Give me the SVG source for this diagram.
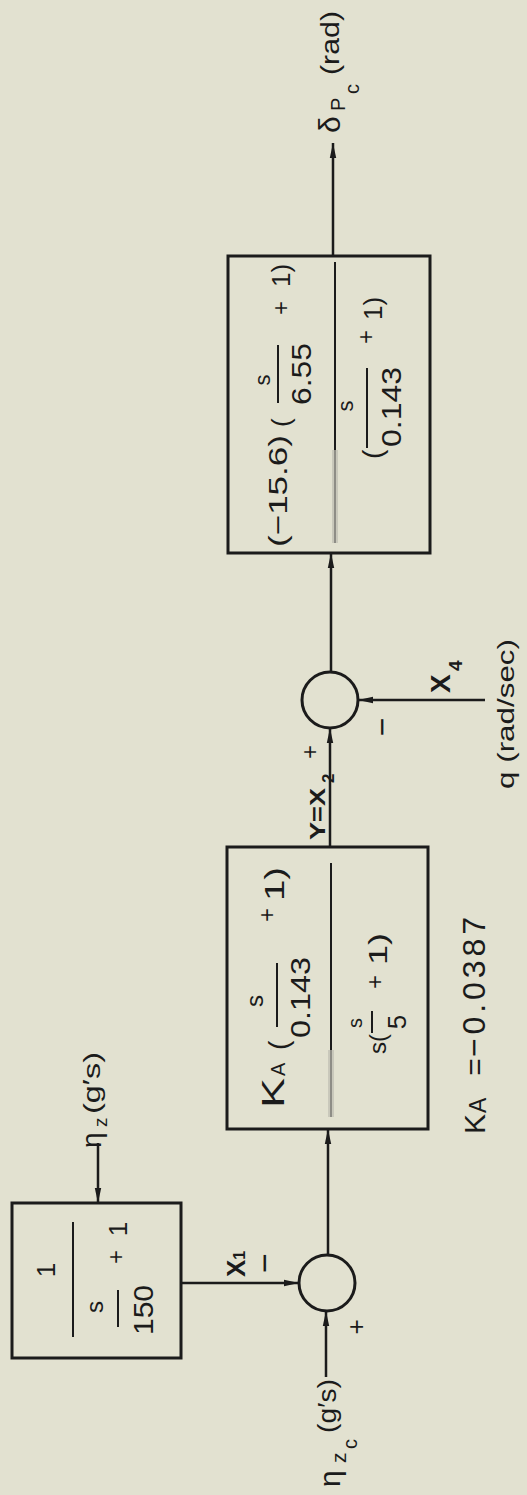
<svg xmlns="http://www.w3.org/2000/svg" width="527" height="1495" viewBox="0 0 527 1495">
<defs>
<style>
.bg{fill:#e2e1d0}
.box{fill:none;stroke:#1b1b1b;stroke-width:3}
.sum{fill:none;stroke:#1b1b1b;stroke-width:3}
.ln{stroke:#1b1b1b;stroke-width:2.5;fill:none}
.fr{stroke:#1b1b1b;stroke-width:2;fill:none}
.ghost{stroke:#c9c8bb;stroke-width:6;fill:none}
.ghostc{stroke:#7a7a74;stroke-width:1.5;fill:none}
text{font-family:"Liberation Sans",Arial,sans-serif;fill:#1b1b1b}
.b{font-weight:bold}
</style>
<marker id="ah" markerWidth="15" markerHeight="8" refX="15" refY="4" orient="auto" markerUnits="userSpaceOnUse">
<path d="M0,0.8 L15,4 L0,7.2 Z" fill="#1b1b1b"/>
</marker>
</defs>
<rect class="bg" x="0" y="0" width="527" height="1495"/>
<g transform="translate(0,1495) rotate(-90)">
<g id="connectors">
<line class="ln" x1="118" y1="326" x2="184" y2="326" marker-end="url(#ah)"/>
<line class="ln" x1="352" y1="98" x2="292" y2="98" marker-end="url(#ah)"/>
<line class="ln" x1="212" y1="181" x2="212" y2="299" marker-end="url(#ah)"/>
<line class="ln" x1="240" y1="328" x2="366" y2="328" marker-end="url(#ah)"/>
<line class="ln" x1="648" y1="330" x2="767" y2="330" marker-end="url(#ah)"/>
<line class="ln" x1="795" y1="485" x2="795" y2="358" marker-end="url(#ah)"/>
<line class="ln" x1="823" y1="331" x2="942" y2="331" marker-end="url(#ah)"/>
<line class="ln" x1="1239" y1="333" x2="1352" y2="333" marker-end="url(#ah)"/>
</g>
<g id="input-nzc">
<text x="8" y="340" font-size="30">η</text>
<text x="32" y="346" font-size="21">z</text>
<text x="46" y="357" font-size="20">c</text>
<text x="62" y="336" font-size="26" textLength="54" lengthAdjust="spacingAndGlyphs">(g′s)</text>
</g>
<g id="sum1">
<circle class="sum" cx="212" cy="327" r="28"/>
<text x="168" y="365" font-size="26" text-anchor="middle">+</text>
<text x="232" y="276" font-size="34" text-anchor="middle">−</text>
<text class="b" x="218" y="245" font-size="26">X<tspan font-size="16">1</tspan></text>
</g>
<g id="filter-box">
<rect class="box" x="137" y="12" width="155" height="169"/>
<text x="225" y="55" font-size="26" text-anchor="middle">1</text>
<line class="fr" x1="158" y1="73" x2="273" y2="73"/>
<text x="188" y="103" font-size="24" text-anchor="middle">s</text>
<line class="fr" x1="168" y1="118" x2="205" y2="118"/>
<text x="160" y="153" font-size="28" textLength="50" lengthAdjust="spacingAndGlyphs">150</text>
<text x="238" y="124" font-size="24" text-anchor="middle">+</text>
<text x="266" y="127" font-size="26" text-anchor="middle">1</text>
</g>
<g id="input-nz">
<text x="347" y="101" font-size="28">η</text>
<text x="368" y="107" font-size="19">z</text>
<text x="381" y="100" font-size="24" textLength="62" lengthAdjust="spacingAndGlyphs">(g′s)</text>
</g>
<g id="controller-box">
<rect class="box" x="366" y="227" width="282" height="201"/>
<line class="ghost" x1="378" y1="331" x2="445" y2="331"/>
<line class="ghostc" x1="378" y1="331" x2="445" y2="331"/>
<line class="fr" x1="445" y1="331" x2="632" y2="331"/>
<text x="387" y="284" font-size="32" textLength="30" lengthAdjust="spacingAndGlyphs">K</text>
<text x="419" y="285" font-size="20">A</text>
<text x="445" y="288" font-size="28">(</text>
<text x="494" y="263" font-size="24" text-anchor="middle">s</text>
<line class="fr" x1="468" y1="277" x2="532" y2="277"/>
<text x="457" y="310" font-size="27" textLength="81" lengthAdjust="spacingAndGlyphs">0.143</text>
<text x="580" y="275" font-size="24" text-anchor="middle">+</text>
<text x="594" y="284" font-size="28" textLength="34" lengthAdjust="spacingAndGlyphs">1)</text>
<text x="441" y="386" font-size="24">s(</text>
<text x="472" y="362" font-size="20" text-anchor="middle">s</text>
<line class="fr" x1="462" y1="372" x2="484" y2="372"/>
<text x="473" y="406" font-size="26" text-anchor="middle">5</text>
<text x="513" y="383" font-size="24" text-anchor="middle">+</text>
<text x="530" y="387" font-size="26" textLength="32" lengthAdjust="spacingAndGlyphs">1)</text>
</g>
<g id="gain-note">
<text x="361" y="485" font-size="30">K</text>
<text x="382" y="486" font-size="23">A</text>
<text x="428" y="485" font-size="30" text-anchor="middle">=</text>
<text x="438" y="485" font-size="32" textLength="140" lengthAdjust="spacing">−0.0387</text>
</g>
<g id="sum2">
<circle class="sum" cx="795" cy="330" r="28"/>
<text class="b" x="655" y="325" font-size="22" textLength="52" lengthAdjust="spacingAndGlyphs">Y=X</text>
<text class="b" x="712" y="334" font-size="17">2</text>
<text x="743" y="318" font-size="24" text-anchor="middle">+</text>
<text x="768" y="393" font-size="32" text-anchor="middle">−</text>
<text class="b" x="802" y="450" font-size="28">X</text>
<text class="b" x="824" y="462" font-size="19">4</text>
<text x="706" y="514" font-size="24" textLength="150" lengthAdjust="spacingAndGlyphs">q (rad/sec)</text>
</g>
<g id="compensator-box">
<rect class="box" x="942" y="228" width="297" height="202"/>
<line class="ghost" x1="952" y1="335" x2="1045" y2="335"/>
<line class="ghostc" x1="952" y1="335" x2="1045" y2="335"/>
<line class="fr" x1="1045" y1="335" x2="1233" y2="335"/>
<text x="948" y="287" font-size="26" textLength="112" lengthAdjust="spacingAndGlyphs">(−15.6)</text>
<text x="1068" y="290" font-size="26">(</text>
<text x="1115" y="270" font-size="22" text-anchor="middle">s</text>
<line class="fr" x1="1092" y1="278" x2="1150" y2="278"/>
<text x="1090" y="311" font-size="27" textLength="62" lengthAdjust="spacingAndGlyphs">6.55</text>
<text x="1187" y="289" font-size="24" text-anchor="middle">+</text>
<text x="1208" y="290" font-size="26">1)</text>
<text x="1036" y="382" font-size="28">(</text>
<text x="1089" y="353" font-size="22" text-anchor="middle">s</text>
<line class="fr" x1="1047" y1="367" x2="1127" y2="367"/>
<text x="1048" y="401" font-size="27" textLength="80" lengthAdjust="spacingAndGlyphs">0.143</text>
<text x="1158" y="374" font-size="24" text-anchor="middle">+</text>
<text x="1175" y="382" font-size="26">1)</text>
</g>
<g id="output-dpc">
<text x="1362" y="340" font-size="30">δ</text>
<text x="1384" y="345" font-size="20">P</text>
<text x="1401" y="359" font-size="20">c</text>
<text x="1420" y="339" font-size="25" textLength="64" lengthAdjust="spacingAndGlyphs">(rad)</text>
</g>
</g>
</svg>
